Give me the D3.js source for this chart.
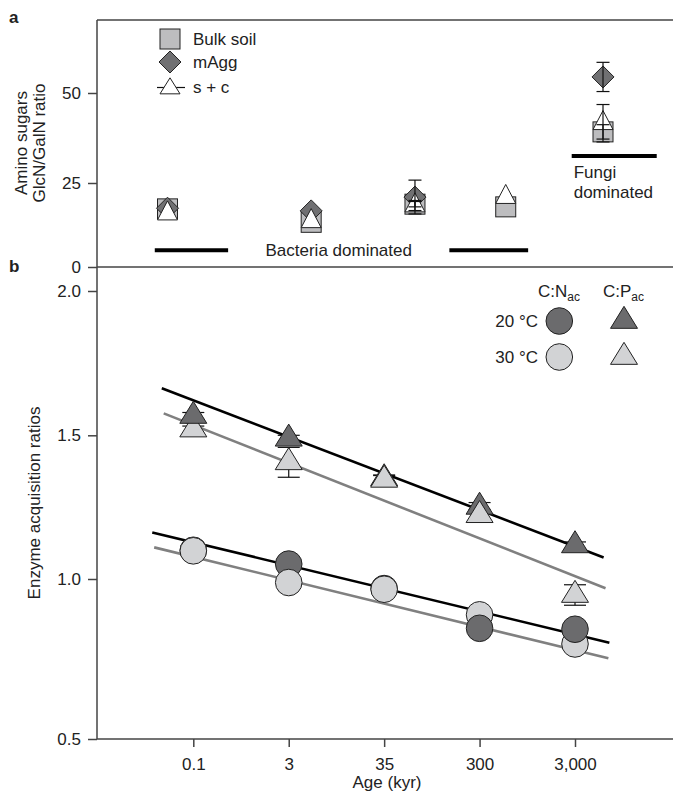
<!DOCTYPE html>
<head>
<meta charset="utf-8">
<script src="https://cdn.jsdelivr.net/npm/d3@7"></script>
<style>
  body {
    margin: 0;
    background: #fff;
    font-family: 'Liberation Sans', Arial, sans-serif;
  }
  text { fill: #222; font-size: 17px; }
  .axis line, .axis path { stroke: #444; stroke-width: 1.5px; }
  .frame { stroke: #444; stroke-width: 1.5px; }
  .err { stroke: #111; stroke-width: 1.2px; fill: none; }
</style>
</head>
<body>
<svg id="chart" width="673" height="801"></svg>
<script>
  var ages = [0.1, 3, 35, 300, 3000];

  // panel a - amino sugars GlcN/GalN ratio
  var bulkSoil    = [17.3, 13.3, 18.7, 17.9, 39.2];
  var bulkSoilErr = [0, 0, 0.8, 0, 2.0];
  var mAgg        = [17.5, 16.7, 20.8, null, 54.4];
  var mAggErr     = [0, 0, 5.0, null, 4.0];
  var sc          = [15.9, 13.6, 18.3, 20.8, 41.6];
  var scErr       = [0, 0, 1.5, 0, 5.2];
  var aTicks = [0, 25, 50];
  var bacteriaBars = [[0.074, 0.42], [79, 510]];
  var bacteriaLevel = 5;
  var fungiBar = [1430, 10700];
  var fungiLevel = 32.5;

  // panel b - enzyme acquisition ratios
  var cn20 = [1.100, 1.052, 0.970, 0.846, 0.843];
  var cn30 = [1.098, 0.989, 0.968, 0.888, 0.797];
  var cp20 = [1.567, 1.488, 1.350, 1.251, 1.117];
  var cp30 = [1.520, 1.406, 1.345, 1.222, 0.950];
  var cnErr   = [0.01, 0.01, 0.01, 0.01, 0.01];
  var cp20Err = [0.012, 0.012, 0.012, 0.015, 0.012];
  var cp30Err = [0.012, 0.052, 0.015, 0.02, 0.032];
  // which temperature is drawn on top at each age
  var cnOnTop = [30, 30, 30, 20, 20];
  var cpOnTop = [20, 20, 30, 30, 20];
  // regression lines, [age index, ratio]
  var fitCP20 = [[-0.33, 1.663], [4.30, 1.075]];
  var fitCP30 = [[-0.31, 1.576], [4.32, 0.971]];
  var fitCN20 = [[-0.43, 1.162], [4.36, 0.801]];
  var fitCN30 = [[-0.41, 1.110], [4.35, 0.752]];
  var bTicks = [0.5, 1.0, 1.5, 2.0];

  var DARK = '#6b6b6d', LIGHT = '#d2d3d5', SQUARE = '#bdbdbf', DIAMOND = '#707072';
  var svg = d3.select('#chart');
  var left = 97, right = 673;

  function triPath(w, h) {
    return 'M0,' + (-2 * h / 3) + 'L' + (w / 2) + ',' + (h / 3) + 'L' + (-w / 2) + ',' + (h / 3) + 'Z';
  }
  function diaPath(s) {
    return 'M0,' + (-s) + 'L' + s + ',0L0,' + s + 'L' + (-s) + ',0Z';
  }

  // ---------- panel a ----------
  var xa = d3.scaleLog().domain([0.1, 3000]).range([167.5, 603]);
  var ya = d3.scaleLinear().domain([0, 25, 50, 70]).range([267, 183, 93, 20]);
  var ga = svg.append('g');

  ga.append('line').attr('class', 'frame').attr('x1', left).attr('x2', right).attr('y1', ya(70)).attr('y2', ya(70));
  ga.append('line').attr('class', 'frame').attr('x1', left).attr('x2', right).attr('y1', ya(0)).attr('y2', ya(0));
  ga.append('g').attr('class', 'axis').attr('transform', 'translate(' + left + ',0)')
    .call(d3.axisLeft(ya).tickValues(aTicks).tickSize(9).tickPadding(7).tickFormat(d3.format('d')))
    .call(function(g) { g.select('.domain').remove(); g.selectAll('text').style('font-size', '17px').attr('fill', '#222'); });

  // annotation bars
  ga.selectAll('.bbar').data(bacteriaBars).enter().append('line')
    .attr('x1', function(d) { return xa(d[0]); }).attr('x2', function(d) { return xa(d[1]); })
    .attr('y1', ya(bacteriaLevel)).attr('y2', ya(bacteriaLevel))
    .attr('stroke', '#000').attr('stroke-width', 4);
  ga.append('text').attr('x', (xa(bacteriaBars[0][1]) + xa(bacteriaBars[1][0])) / 2).attr('y', ya(bacteriaLevel) + 6)
    .attr('text-anchor', 'middle').text('Bacteria dominated');
  ga.append('line').attr('x1', xa(fungiBar[0])).attr('x2', xa(fungiBar[1]))
    .attr('y1', ya(fungiLevel)).attr('y2', ya(fungiLevel)).attr('stroke', '#000').attr('stroke-width', 4);
  ga.append('text').attr('x', xa(fungiBar[0]) + 2).attr('y', ya(fungiLevel) + 22).text('Fungi');
  ga.append('text').attr('x', xa(fungiBar[0]) + 2).attr('y', ya(fungiLevel) + 42).text('dominated');

  function aPoints(vals) {
    return ages.map(function(a, i) { return { age: a, v: vals[i], i: i }; }).filter(function(d) { return d.v != null; });
  }
  ga.selectAll('.sq').data(aPoints(bulkSoil)).enter().append('rect')
    .attr('x', function(d) { return xa(d.age) - 10; }).attr('y', function(d) { return ya(d.v) - 10; })
    .attr('width', 20).attr('height', 20).attr('fill', SQUARE).attr('stroke', '#222').attr('stroke-width', 1);
  ga.selectAll('.dia').data(aPoints(mAgg)).enter().append('path')
    .attr('d', diaPath(11)).attr('transform', function(d) { return 'translate(' + xa(d.age) + ',' + ya(d.v) + ')'; })
    .attr('fill', DIAMOND).attr('stroke', '#222').attr('stroke-width', 1);
  ga.selectAll('.tri').data(aPoints(sc)).enter().append('path')
    .attr('d', triPath(20, 19)).attr('transform', function(d) { return 'translate(' + xa(d.age) + ',' + ya(d.v) + ')'; })
    .attr('fill', '#fff').attr('stroke', '#222').attr('stroke-width', 1);

  function aErr(vals, errs) {
    var pts = aPoints(vals).filter(function(d) { return errs[d.i] > 0; });
    var g = ga.append('g').attr('class', 'err');
    pts.forEach(function(d) {
      var x = xa(d.age), y0 = ya(d.v - errs[d.i]), y1 = ya(d.v + errs[d.i]);
      g.append('line').attr('x1', x).attr('x2', x).attr('y1', y0).attr('y2', y1);
      g.append('line').attr('x1', x - 6.5).attr('x2', x + 6.5).attr('y1', y0).attr('y2', y0);
      g.append('line').attr('x1', x - 6.5).attr('x2', x + 6.5).attr('y1', y1).attr('y2', y1);
    });
  }
  aErr(bulkSoil, bulkSoilErr);
  aErr(mAgg, mAggErr);
  aErr(sc, scErr);

  // legend a
  var la = ga.append('g').attr('transform', 'translate(170,0)');
  la.append('rect').attr('x', -10).attr('y', 29).attr('width', 20).attr('height', 20)
    .attr('fill', SQUARE).attr('stroke', '#222');
  la.append('text').attr('x', 23).attr('y', 45).text('Bulk soil');
  la.append('path').attr('d', diaPath(11)).attr('transform', 'translate(0,62)')
    .attr('fill', DIAMOND).attr('stroke', '#222');
  la.append('text').attr('x', 23).attr('y', 68).text('mAgg');
  la.append('line').attr('x1', -13).attr('x2', 15).attr('y1', 87.5).attr('y2', 87.5).attr('stroke', '#111').attr('stroke-width', 1.2);
  la.append('path').attr('d', triPath(20, 16)).attr('transform', 'translate(0,88.5)')
    .attr('fill', '#fff').attr('stroke', '#222');
  la.append('text').attr('x', 23).attr('y', 93).text('s + c');

  // axis title a
  ga.append('text').attr('transform', 'translate(27,143) rotate(-90)').attr('text-anchor', 'middle').text('Amino sugars');
  ga.append('text').attr('transform', 'translate(45,143) rotate(-90)').attr('text-anchor', 'middle').text('GlcN/GalN ratio');

  // ---------- panel b ----------
  var xb = d3.scalePoint().domain(ages).range([193.3, 575]);
  var xi = d3.scaleLinear().domain([0, ages.length - 1]).range([xb(ages[0]), xb(ages[ages.length - 1])]);
  var yb = d3.scaleLinear().domain([0.5, 1.0, 1.5, 2.0]).range([739, 579, 435.3, 291]);
  var gb = svg.append('g');

  gb.append('line').attr('class', 'frame').attr('x1', left).attr('x2', left).attr('y1', ya(70)).attr('y2', yb(0.5));
  gb.append('line').attr('class', 'frame').attr('x1', left).attr('x2', right).attr('y1', yb(0.5)).attr('y2', yb(0.5));
  gb.append('g').attr('class', 'axis').attr('transform', 'translate(' + left + ',0)')
    .call(d3.axisLeft(yb).tickValues(bTicks).tickSize(9).tickPadding(7).tickFormat(d3.format('.1f')))
    .call(function(g) { g.select('.domain').remove(); g.selectAll('text').style('font-size', '17px').attr('fill', '#222'); });
  gb.append('g').attr('class', 'axis').attr('transform', 'translate(0,' + yb(0.5) + ')')
    .call(d3.axisBottom(xb).tickSize(8).tickPadding(11).tickFormat(d3.format(',')))
    .call(function(g) { g.select('.domain').remove(); g.selectAll('text').style('font-size', '17px').attr('fill', '#222'); });

  // regression lines
  var fitLine = d3.line().x(function(d) { return xi(d[0]); }).y(function(d) { return yb(d[1]); });
  [[fitCP20, '#000'], [fitCP30, '#808080'], [fitCN20, '#000'], [fitCN30, '#808080']].forEach(function(f) {
    gb.append('path').datum(f[0]).attr('d', fitLine).attr('fill', 'none')
      .attr('stroke', f[1]).attr('stroke-width', 2.6);
  });

  // points
  var pts = [];
  ages.forEach(function(a, i) {
    pts.push({ age: a, v: cn20[i], e: cnErr[i], shape: 'c', fill: DARK, top: cnOnTop[i] == 20 });
    pts.push({ age: a, v: cn30[i], e: cnErr[i], shape: 'c', fill: LIGHT, top: cnOnTop[i] == 30 });
    pts.push({ age: a, v: cp20[i], e: cp20Err[i], shape: 't', fill: DARK, top: cpOnTop[i] == 20 });
    pts.push({ age: a, v: cp30[i], e: cp30Err[i], shape: 't', fill: LIGHT, top: cpOnTop[i] == 30 });
  });
  pts.sort(function(p, q) { return (p.top ? 1 : 0) - (q.top ? 1 : 0); });

  var eb = gb.append('g').attr('class', 'err');
  pts.forEach(function(d) {
    var x = xb(d.age), y0 = yb(d.v - d.e), y1 = yb(d.v + d.e);
    eb.append('line').attr('x1', x).attr('x2', x).attr('y1', y0).attr('y2', y1);
    eb.append('line').attr('x1', x - 11).attr('x2', x + 11).attr('y1', y0).attr('y2', y0);
    eb.append('line').attr('x1', x - 11).attr('x2', x + 11).attr('y1', y1).attr('y2', y1);
  });
  gb.selectAll('.pt').data(pts).enter().append('path')
    .attr('d', function(d) { return d.shape == 'c' ? d3.symbol(d3.symbolCircle, Math.PI * 13.3 * 13.3)() : triPath(27, 22); })
    .attr('transform', function(d) { return 'translate(' + xb(d.age) + ',' + yb(d.v) + ')'; })
    .attr('fill', function(d) { return d.fill; }).attr('stroke', '#222').attr('stroke-width', 1);

  // legend b
  var lb = gb.append('g');
  var h1 = lb.append('text').attr('x', 538).attr('y', 297);
  h1.append('tspan').text('C:N');
  h1.append('tspan').attr('dy', 4).style('font-size', '12px').text('ac');
  var h2 = lb.append('text').attr('x', 603).attr('y', 297);
  h2.append('tspan').text('C:P');
  h2.append('tspan').attr('dy', 4).style('font-size', '12px').text('ac');
  [['20 °C', DARK, 321], ['30 °C', LIGHT, 357]].forEach(function(r) {
    lb.append('text').attr('x', 538).attr('y', r[2] + 6).attr('text-anchor', 'end').text(r[0]);
    lb.append('circle').attr('cx', 559.3).attr('cy', r[2]).attr('r', 13.3).attr('fill', r[1]).attr('stroke', '#222');
    lb.append('path').attr('d', triPath(27, 22)).attr('transform', 'translate(624,' + (r[2]) + ')')
      .attr('fill', r[1]).attr('stroke', '#222');
  });

  // titles b
  gb.append('text').attr('transform', 'translate(40,503) rotate(-90)').attr('text-anchor', 'middle').text('Enzyme acquisition ratios');
  gb.append('text').attr('x', 387).attr('y', 788).attr('text-anchor', 'middle').text('Age (kyr)');

  // panel letters
  svg.append('text').attr('x', 9).attr('y', 23).style('font-weight', 'bold').text('a');
  svg.append('text').attr('x', 9).attr('y', 272).style('font-weight', 'bold').text('b');
</script>
</body>
